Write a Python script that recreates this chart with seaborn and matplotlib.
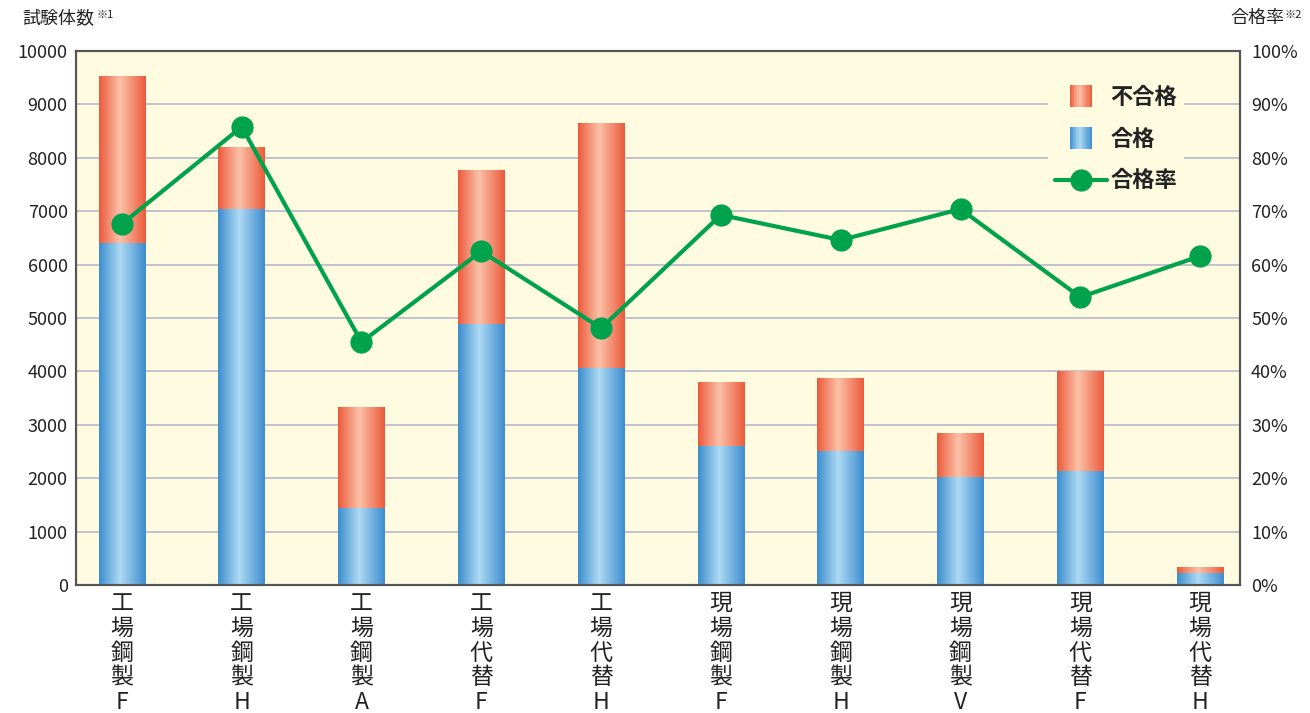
import numpy as np
import pandas as pd
import matplotlib
matplotlib.use('Agg')
import matplotlib.pyplot as plt
import seaborn as sns
from matplotlib.colors import LinearSegmentedColormap
from matplotlib.legend_handler import HandlerBase
from matplotlib.patches import Rectangle
from matplotlib.lines import Line2D

# データ
categories = ['工場鋼製F', '工場鋼製H', '工場鋼製A', '工場代替F', '工場代替H',
              '現場鋼製F', '現場鋼製H', '現場鋼製V', '現場代替F', '現場代替H']
total = [9520, 8200, 3330, 7770, 8650, 3800, 3860, 2830, 3995, 320]
passed = [6390, 7030, 1440, 4870, 4060, 2600, 2500, 2010, 2125, 210]
rate = [67.6, 85.8, 45.5, 62.5, 48.1, 69.3, 64.6, 70.4, 53.9, 61.6]
left_ticks = list(range(0, 10001, 1000))
right_ticks = list(range(0, 101, 10))

sns.set_style('white')
plt.rcParams['font.family'] = ['Noto Sans CJK JP', 'DejaVu Sans']

df = pd.DataFrame({'name': categories, 'total': total, 'passed': passed, 'rate': rate})

bg = '#FFFBE0'
green = '#00A24C'
red_cmap = LinearSegmentedColormap.from_list('r', [(0, '#EC5A3C'), (0.45, '#FBC2A8'), (1, '#EC5A3C')])
blue_cmap = LinearSegmentedColormap.from_list('b', [(0, '#3D8DCF'), (0.45, '#AEDAF3'), (1, '#3D8DCF')])

fig = plt.figure(figsize=(13.1, 7.13), dpi=100)
ax = fig.add_axes([76 / 1310, 1 - 585 / 713, 1164 / 1310, 534 / 713])
ax.set_facecolor(bg)

# 棒グラフ (不合格 = 全体の上に合格を重ねる)
sns.barplot(data=df, x='name', y='total', color='#EC5A3C', width=0.39, errorbar=None, ax=ax)
sns.barplot(data=df, x='name', y='passed', color='#3D8DCF', width=0.39, errorbar=None, ax=ax)

# グラデーションで塗り直す
row = np.linspace(0, 1, 128).reshape(1, -1)
for cont, cmap, z in [(ax.containers[0], red_cmap, 2), (ax.containers[1], blue_cmap, 3)]:
    for p in cont.patches:
        x0, y0, w, h = p.get_x(), p.get_y(), p.get_width(), p.get_height()
        ax.imshow(row, cmap=cmap, extent=(x0, x0 + w, y0, y0 + h), aspect='auto',
                  interpolation='bilinear', zorder=z)
        p.set_visible(False)

ax.set_ylim(0, 10000)
ax.set_xlim(-0.383, 9.333)
ax.set_yticks(left_ticks)
ax.set_yticklabels([str(v) for v in left_ticks])
ax.set_xticks(range(len(categories)))
ax.set_xticklabels(['\n'.join(c) for c in categories], fontsize=16.5, linespacing=1.1,
                   color='#222222', va='top')
ax.set_xlabel('')
ax.set_ylabel('')
ax.yaxis.grid(True, color='#BDBDCB', lw=1.3)
ax.set_axisbelow(True)
ax.tick_params(axis='y', length=0, pad=6, labelsize=13, labelcolor='#222222')
ax.tick_params(axis='x', length=0, pad=5)
for s in ax.spines.values():
    s.set_color('#555555')
    s.set_linewidth(1.5)

# 合格率
ax2 = ax.twinx()
sns.lineplot(x=np.arange(len(categories)), y=df['rate'], ax=ax2, color=green, lw=3.0,
             marker='o', markersize=16, markeredgewidth=0)
ax2.set_ylim(0, 100)
ax2.set_xlim(-0.383, 9.333)
ax2.set_yticks(right_ticks)
ax2.set_yticklabels([f'{v}%' for v in right_ticks])
ax2.set_ylabel('')
ax2.tick_params(axis='y', length=0, pad=8, labelsize=13, labelcolor='#222222')
ax2.grid(False)
for s in ax2.spines.values():
    s.set_color('#555555')
    s.set_linewidth(1.5)


class GradHandler(HandlerBase):
    def __init__(self, cmap):
        super().__init__()
        self.cmap = cmap

    def create_artists(self, legend, orig_handle, xdescent, ydescent, width, height, fontsize, trans):
        side = 16
        cx = -xdescent + width / 2
        cy = -ydescent + height / 2
        n = 20
        arts = []
        for i in range(n):
            r = Rectangle((cx - side / 2 + side * i / n, cy - side / 2), side / n * 1.1, side,
                          facecolor=self.cmap((i + 0.5) / n), edgecolor='none', transform=trans)
            arts.append(r)
        return arts


h_ng = Rectangle((0, 0), 1, 1)
h_ok = Rectangle((0, 0), 1, 1)
h_rate = Line2D([], [], color=green, lw=3.0, marker='o', markersize=16, markeredgewidth=0)
leg = ax2.legend([h_ng, h_ok, h_rate], ['不合格', '合格', '合格率'],
                 handler_map={h_ng: GradHandler(red_cmap), h_ok: GradHandler(blue_cmap)},
                 loc='upper left', bbox_to_anchor=(1048 / 1310, 1 - 79 / 713),
                 bbox_transform=fig.transFigure, borderaxespad=0, borderpad=0.3,
                 handlelength=2.35, handletextpad=0.15, labelspacing=0.85,
                 frameon=True, fancybox=False, facecolor=bg, edgecolor='none', framealpha=1,
                 prop={'size': 16, 'weight': 'bold'})
for t in leg.get_texts():
    t.set_color('#222222')

# 軸タイトル
fig.text(22 / 1310, 1 - 18 / 713, '試験体数', fontsize=13, va='center', ha='left', color='#222222')
fig.text(97 / 1310, 1 - 15 / 713, '※1', fontsize=8, va='center', ha='left', color='#222222')
fig.text(1284 / 1310, 1 - 18 / 713, '合格率', fontsize=13, va='center', ha='right', color='#222222')
fig.text(1285 / 1310, 1 - 15 / 713, '※2', fontsize=8, va='center', ha='left', color='#222222')

fig.savefig('out.png', dpi=100, facecolor='white')
